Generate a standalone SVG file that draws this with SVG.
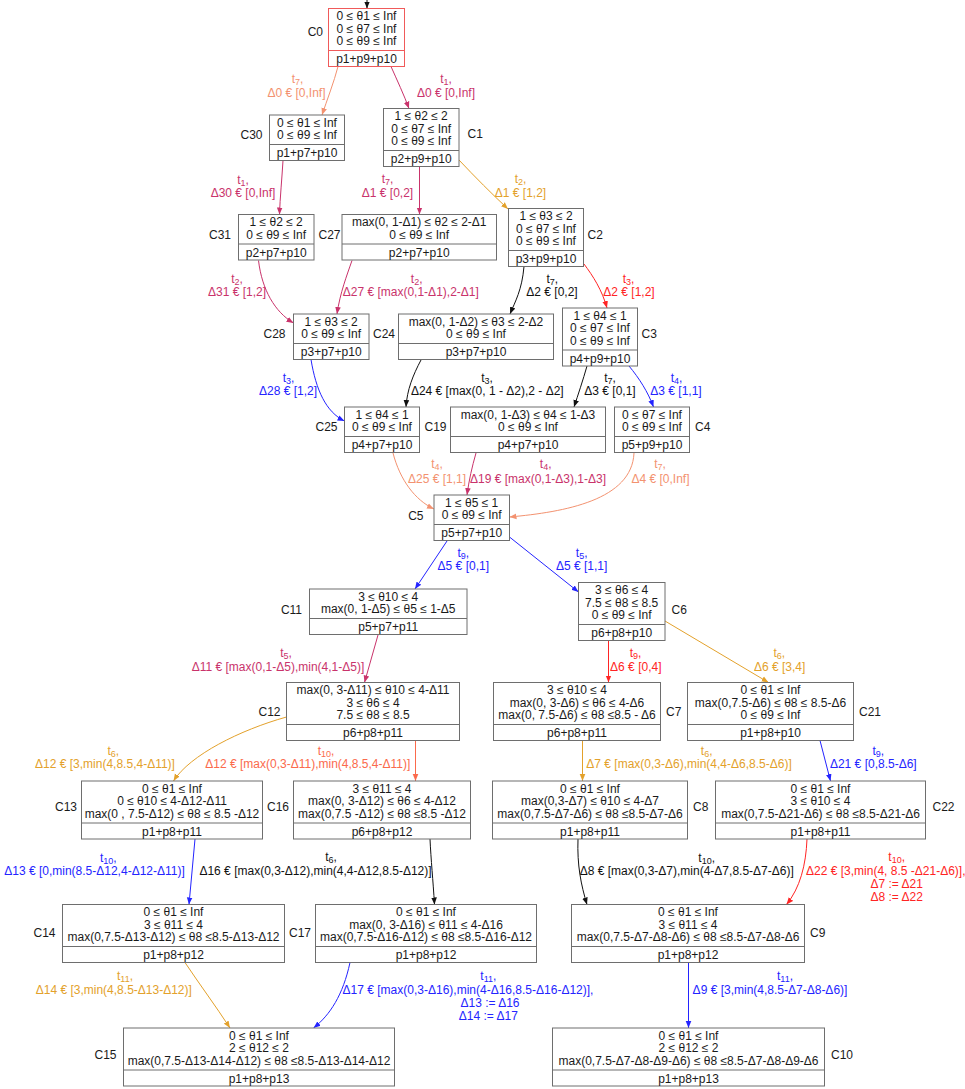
<svg xmlns="http://www.w3.org/2000/svg" width="965" height="1089" viewBox="0 0 965 1089">
<style>
text{font-family:"Liberation Sans",Arial,sans-serif;font-size:12px;fill:#1a1a1a}
.n text{text-anchor:middle}
.n text.nl{text-anchor:end}
.n text.nr{text-anchor:start}
.box{fill:#fff;stroke:#6e6e6e;stroke-width:1}
.div{stroke:#6e6e6e;stroke-width:1}
.lbl text{text-anchor:middle}
.sub{font-size:9px}
.e path{fill:none;stroke-width:1}
.k{stroke:#111}.kt{fill:#111}
.s{stroke:#f39270}.st{fill:#f39270}
.c{stroke:#c9336b}.ct{fill:#c9336b}
.g{stroke:#e3a12b}.gt{fill:#e3a12b}
.r{stroke:#ff2424}.rt{fill:#ff2424}
.b{stroke:#2424ff}.bt{fill:#2424ff}
.o{stroke:#fb6a4c}.ot{fill:#fb6a4c}
</style>
<defs>
<marker id="mk" viewBox="0 0 10 10" refX="10" refY="5" markerWidth="7" markerHeight="7" markerUnits="userSpaceOnUse" orient="auto"><path d="M0,1L10,5L0,9z" fill="#111"/></marker>
<marker id="ms" viewBox="0 0 10 10" refX="10" refY="5" markerWidth="7" markerHeight="7" markerUnits="userSpaceOnUse" orient="auto"><path d="M0,1L10,5L0,9z" fill="#f39270"/></marker>
<marker id="mc" viewBox="0 0 10 10" refX="10" refY="5" markerWidth="7" markerHeight="7" markerUnits="userSpaceOnUse" orient="auto"><path d="M0,1L10,5L0,9z" fill="#c9336b"/></marker>
<marker id="mg" viewBox="0 0 10 10" refX="10" refY="5" markerWidth="7" markerHeight="7" markerUnits="userSpaceOnUse" orient="auto"><path d="M0,1L10,5L0,9z" fill="#e3a12b"/></marker>
<marker id="mr" viewBox="0 0 10 10" refX="10" refY="5" markerWidth="7" markerHeight="7" markerUnits="userSpaceOnUse" orient="auto"><path d="M0,1L10,5L0,9z" fill="#ff2424"/></marker>
<marker id="mb" viewBox="0 0 10 10" refX="10" refY="5" markerWidth="7" markerHeight="7" markerUnits="userSpaceOnUse" orient="auto"><path d="M0,1L10,5L0,9z" fill="#2424ff"/></marker>
<marker id="mo" viewBox="0 0 10 10" refX="10" refY="5" markerWidth="7" markerHeight="7" markerUnits="userSpaceOnUse" orient="auto"><path d="M0,1L10,5L0,9z" fill="#fb6a4c"/></marker>
</defs>
<rect width="965" height="1089" fill="#fff"/>

<g id="connectors" class="e">
<path class="k" marker-end="url(#mk)" d="M367,0L367,8.5"/>
<path class="s" marker-end="url(#ms)" d="M338,66.5C334,82 327,100 322,115"/>
<path class="c" marker-end="url(#mc)" d="M391,66.5C397,80 404,95 409,108.5"/>
<path class="c" marker-end="url(#mc)" d="M283,160.5C282,178 280,198 279.5,214.5"/>
<path class="c" marker-end="url(#mc)" d="M419.5,166L419.5,214.5"/>
<path class="g" marker-end="url(#mg)" d="M459,160C475,177 492,194 508,209"/>
<path class="c" marker-end="url(#mc)" d="M258.5,260.5C262,290 275,312 293.5,323"/>
<path class="c" marker-end="url(#mc)" d="M352,260.5C347,275 340,293 337,314"/>
<path class="k" marker-end="url(#mk)" d="M524,266.5C522,290 515,302 510,314"/>
<path class="r" marker-end="url(#mr)" d="M584,264C593,276 602,290 607,308"/>
<path class="b" marker-end="url(#mb)" d="M311,359.5C316,390 326,412 344.5,421"/>
<path class="k" marker-end="url(#mk)" d="M421,360C413,375 407,390 406,407"/>
<path class="k" marker-end="url(#mk)" d="M587,366C583,380 578,395 574,407"/>
<path class="b" marker-end="url(#mb)" d="M629,366C639,378 648,392 653.5,407"/>
<path class="s" marker-end="url(#ms)" d="M393,453C400,480 415,500 434,509"/>
<path class="c" marker-end="url(#mc)" d="M476,453C472,467 469,480 467,495"/>
<path class="s" marker-end="url(#ms)" d="M634,453C632,500 565,512 509.5,517"/>
<path class="b" marker-end="url(#mb)" d="M447,541L415,589"/>
<path class="b" marker-end="url(#mb)" d="M509.5,537L578.5,592"/>
<path class="c" marker-end="url(#mc)" d="M378,635L364.5,682.5"/>
<path class="r" marker-end="url(#mr)" d="M608.5,640.5L608.5,682.5"/>
<path class="g" marker-end="url(#mg)" d="M665,621L768.5,682.5"/>
<path class="g" marker-end="url(#mg)" d="M286.5,717C240,730 190,755 173.5,781"/>
<path class="o" marker-end="url(#mo)" d="M415.5,740.5L415.5,781"/>
<path class="g" marker-end="url(#mg)" d="M582.5,740.5L582.5,781"/>
<path class="b" marker-end="url(#mb)" d="M820,740.5L830.5,781"/>
<path class="b" marker-end="url(#mb)" d="M195,839L189,904.5"/>
<path class="k" marker-end="url(#mk)" d="M430,839C431,860 433,880 434.5,904.5"/>
<path class="k" marker-end="url(#mk)" d="M578,839C577,865 581,885 587,904.5"/>
<path class="r" marker-end="url(#mr)" d="M807,839C806,865 800,888 786.5,904.5"/>
<path class="g" marker-end="url(#mg)" d="M185,962.5C200,985 215,1005 230,1028"/>
<path class="b" marker-end="url(#mb)" d="M350,962.5C343,995 330,1015 313.5,1028"/>
<path class="b" marker-end="url(#mb)" d="M688.5,962.5L688.5,1028"/>
</g>

<g id="edge-labels" class="lbl">
<text class="st" x="297.5" y="83">t<tspan class="sub" dy="2">7</tspan><tspan dy="-2">,</tspan></text>
<text class="st" x="296.5" y="96.5">Δ0 € [0,Inf]</text>
<text class="ct" x="446" y="83">t<tspan class="sub" dy="2">1</tspan><tspan dy="-2">,</tspan></text>
<text class="ct" x="446" y="96.5">Δ0 € [0,Inf]</text>
<text class="ct" x="243" y="183.5">t<tspan class="sub" dy="2">1</tspan><tspan dy="-2">,</tspan></text>
<text class="ct" x="243" y="196.5">Δ30 € [0,Inf]</text>
<text class="ct" x="387.5" y="183">t<tspan class="sub" dy="2">7</tspan><tspan dy="-2">,</tspan></text>
<text class="ct" x="387.5" y="196.5">Δ1 € [0,2]</text>
<text class="gt" x="520.5" y="183">t<tspan class="sub" dy="2">2</tspan><tspan dy="-2">,</tspan></text>
<text class="gt" x="520.5" y="196.5">Δ1 € [1,2]</text>
<text class="ct" x="237" y="282.5">t<tspan class="sub" dy="2">2</tspan><tspan dy="-2">,</tspan></text>
<text class="ct" x="237" y="296">Δ31 € [1,2]</text>
<text class="ct" x="416.7" y="282.5">t<tspan class="sub" dy="2">2</tspan><tspan dy="-2">,</tspan></text>
<text class="ct" x="410.8" y="296">Δ27 € [max(0,1-Δ1),2-Δ1]</text>
<text class="kt" x="552.3" y="282.5">t<tspan class="sub" dy="2">7</tspan><tspan dy="-2">,</tspan></text>
<text class="kt" x="552" y="296">Δ2 € [0,2]</text>
<text class="rt" x="628.5" y="282.5">t<tspan class="sub" dy="2">3</tspan><tspan dy="-2">,</tspan></text>
<text class="rt" x="629" y="296">Δ2 € [1,2]</text>
<text class="bt" x="288.5" y="381.5">t<tspan class="sub" dy="2">3</tspan><tspan dy="-2">,</tspan></text>
<text class="bt" x="288" y="395.3">Δ28 € [1,2]</text>
<text class="kt" x="487" y="381.5">t<tspan class="sub" dy="2">3</tspan><tspan dy="-2">,</tspan></text>
<text class="kt" x="487.3" y="395.3">Δ24 € [max(0, 1 - Δ2),2 - Δ2]</text>
<text class="kt" x="610" y="381.5">t<tspan class="sub" dy="2">7</tspan><tspan dy="-2">,</tspan></text>
<text class="kt" x="610" y="395.3">Δ3 € [0,1]</text>
<text class="bt" x="676.5" y="381.5">t<tspan class="sub" dy="2">4</tspan><tspan dy="-2">,</tspan></text>
<text class="bt" x="676" y="395.3">Δ3 € [1,1]</text>
<text class="st" x="437" y="468">t<tspan class="sub" dy="2">4</tspan><tspan dy="-2">,</tspan></text>
<text class="st" x="437" y="483.3">Δ25 € [1,1]</text>
<text class="ct" x="545.7" y="468">t<tspan class="sub" dy="2">4</tspan><tspan dy="-2">,</tspan></text>
<text class="ct" x="538" y="483.3">Δ19 € [max(0,1-Δ3),1-Δ3]</text>
<text class="st" x="660" y="468">t<tspan class="sub" dy="2">7</tspan><tspan dy="-2">,</tspan></text>
<text class="st" x="660.5" y="483.3">Δ4 € [0,Inf]</text>
<text class="bt" x="463.3" y="556.5">t<tspan class="sub" dy="2">9</tspan><tspan dy="-2">,</tspan></text>
<text class="bt" x="463.3" y="570.3">Δ5 € [0,1]</text>
<text class="bt" x="581.7" y="556.5">t<tspan class="sub" dy="2">5</tspan><tspan dy="-2">,</tspan></text>
<text class="bt" x="581.7" y="570.3">Δ5 € [1,1]</text>
<text class="ct" x="286" y="657">t<tspan class="sub" dy="2">5</tspan><tspan dy="-2">,</tspan></text>
<text class="ct" x="278" y="671">Δ11 € [max(0,1-Δ5),min(4,1-Δ5)]</text>
<text class="rt" x="635.5" y="657">t<tspan class="sub" dy="2">9</tspan><tspan dy="-2">,</tspan></text>
<text class="rt" x="635.8" y="671">Δ6 € [0,4]</text>
<text class="gt" x="779.3" y="657">t<tspan class="sub" dy="2">6</tspan><tspan dy="-2">,</tspan></text>
<text class="gt" x="779.7" y="671">Δ6 € [3,4]</text>
<text class="gt" x="113.3" y="754.5">t<tspan class="sub" dy="2">6</tspan><tspan dy="-2">,</tspan></text>
<text class="gt" x="105" y="768.3">Δ12 € [3,min(4,8.5,4-Δ11)]</text>
<text class="ot" x="326" y="754.5">t<tspan class="sub" dy="2">10</tspan><tspan dy="-2">,</tspan></text>
<text class="ot" x="307.8" y="768.3">Δ12 € [max(0,3-Δ11),min(4,8.5,4-Δ11)]</text>
<text class="gt" x="706.7" y="754.5">t<tspan class="sub" dy="2">6</tspan><tspan dy="-2">,</tspan></text>
<text class="gt" x="689" y="768.3">Δ7 € [max(0,3-Δ6),min(4,4-Δ6,8.5-Δ6)]</text>
<text class="bt" x="878.3" y="754.5">t<tspan class="sub" dy="2">9</tspan><tspan dy="-2">,</tspan></text>
<text class="bt" x="873.3" y="768.3">Δ21 € [0,8.5-Δ6]</text>
<text class="bt" x="108.3" y="861.5">t<tspan class="sub" dy="2">10</tspan><tspan dy="-2">,</tspan></text>
<text class="bt" x="94.5" y="875.3">Δ13 € [0,min(8.5-Δ12,4-Δ12-Δ11)]</text>
<text class="kt" x="331" y="861">t<tspan class="sub" dy="2">6</tspan><tspan dy="-2">,</tspan></text>
<text class="kt" x="315.5" y="875">Δ16 € [max(0,3-Δ12),min(4,4-Δ12,8.5-Δ12)]</text>
<text class="kt" x="706.7" y="861.5">t<tspan class="sub" dy="2">10</tspan><tspan dy="-2">,</tspan></text>
<text class="kt" x="686.7" y="875.3">Δ8 € [max(0,3-Δ7),min(4-Δ7,8.5-Δ7-Δ6)]</text>
<text class="rt" x="896.7" y="861">t<tspan class="sub" dy="2">10</tspan><tspan dy="-2">,</tspan></text>
<text class="rt" x="885.8" y="874.5">Δ22 € [3,min(4, 8.5 -Δ21-Δ6)],</text>
<text class="rt" x="896.7" y="887.9">Δ7 := Δ21</text>
<text class="rt" x="896.7" y="901.3">Δ8 := Δ22</text>
<text class="gt" x="125" y="979.5">t<tspan class="sub" dy="2">11</tspan><tspan dy="-2">,</tspan></text>
<text class="gt" x="113.8" y="994.3">Δ14 € [3,min(4,8.5-Δ13-Δ12)]</text>
<text class="bt" x="488.3" y="979.5">t<tspan class="sub" dy="2">11</tspan><tspan dy="-2">,</tspan></text>
<text class="bt" x="468" y="993.5">Δ17 € [max(0,3-Δ16),min(4-Δ16,8.5-Δ16-Δ12)],</text>
<text class="bt" x="490" y="1006.9">Δ13 := Δ16</text>
<text class="bt" x="488.3" y="1020.3">Δ14 := Δ17</text>
<text class="bt" x="785" y="979.5">t<tspan class="sub" dy="2">11</tspan><tspan dy="-2">,</tspan></text>
<text class="bt" x="770" y="994.3">Δ9 € [3,min(4,8.5-Δ7-Δ8-Δ6)]</text>
</g>

<g id="C0" class="n"><rect class="box" x="328.5" y="8.5" width="76" height="58" style="stroke:#f05a5a"/><line class="div" x1="328.5" y1="50.5" x2="404.5" y2="50.5" style="stroke:#f05a5a"/>
<text x="366.5" y="20">0 ≤ θ1 ≤ Inf</text><text x="366.5" y="32.5">0 ≤ θ7 ≤ Inf</text><text x="366.5" y="45">0 ≤ θ9 ≤ Inf</text><text x="366.5" y="63.3">p1+p9+p10</text>
<text class="nl" x="323" y="36">C0</text></g>

<g id="C30" class="n"><rect class="box" x="269.5" y="115" width="75" height="45.5"/><line class="div" x1="269.5" y1="144.5" x2="344.5" y2="144.5"/>
<text x="307" y="126.8">0 ≤ θ1 ≤ Inf</text><text x="307" y="139.3">0 ≤ θ9 ≤ Inf</text><text x="307" y="157">p1+p7+p10</text>
<text class="nl" x="262.5" y="139.3">C30</text></g>

<g id="C1" class="n"><rect class="box" x="383.5" y="108.5" width="75.5" height="58"/><line class="div" x1="383.5" y1="150.5" x2="459" y2="150.5"/>
<text x="421.2" y="120">1 ≤ θ2 ≤ 2</text><text x="421.2" y="132.5">0 ≤ θ7 ≤ Inf</text><text x="421.2" y="145">0 ≤ θ9 ≤ Inf</text><text x="421.2" y="163.3">p2+p9+p10</text>
<text class="nr" x="467.5" y="137.6">C1</text></g>

<g id="C31" class="n"><rect class="box" x="238.5" y="214.5" width="75.5" height="45.5"/><line class="div" x1="238.5" y1="244" x2="314" y2="244"/>
<text x="276.2" y="226.3">1 ≤ θ2 ≤ 2</text><text x="276.2" y="238.8">0 ≤ θ9 ≤ Inf</text><text x="276.2" y="256.5">p2+p7+p10</text>
<text class="nl" x="231" y="238.6">C31</text></g>

<g id="C27" class="n"><rect class="box" x="342" y="214.5" width="154.5" height="45.5"/><line class="div" x1="342" y1="244" x2="496.5" y2="244"/>
<text x="419.2" y="226.3">max(0, 1-Δ1) ≤ θ2 ≤ 2-Δ1</text><text x="419.2" y="238.8">0 ≤ θ9 ≤ Inf</text><text x="419.2" y="256.5">p2+p7+p10</text>
<text class="nl" x="340.5" y="238.6">C27</text></g>

<g id="C2" class="n"><rect class="box" x="508.5" y="208.5" width="75" height="58"/><line class="div" x1="508.5" y1="250.5" x2="583.5" y2="250.5"/>
<text x="546" y="220">1 ≤ θ3 ≤ 2</text><text x="546" y="232.5">0 ≤ θ7 ≤ Inf</text><text x="546" y="245">0 ≤ θ9 ≤ Inf</text><text x="546" y="263.3">p3+p9+p10</text>
<text class="nr" x="587.5" y="238.6">C2</text></g>

<g id="C28" class="n"><rect class="box" x="293.5" y="314" width="75.5" height="45.5"/><line class="div" x1="293.5" y1="343.5" x2="369" y2="343.5"/>
<text x="331.2" y="325.8">1 ≤ θ3 ≤ 2</text><text x="331.2" y="338.3">0 ≤ θ9 ≤ Inf</text><text x="331.2" y="356">p3+p7+p10</text>
<text class="nl" x="285.5" y="338.3">C28</text></g>

<g id="C24" class="n"><rect class="box" x="398.5" y="314" width="155" height="45.5"/><line class="div" x1="398.5" y1="343.5" x2="553.5" y2="343.5"/>
<text x="476" y="325.8">max(0, 1-Δ2) ≤ θ3 ≤ 2-Δ2</text><text x="476" y="338.3">0 ≤ θ9 ≤ Inf</text><text x="476" y="356">p3+p7+p10</text>
<text class="nl" x="395" y="338.3">C24</text></g>

<g id="C3" class="n"><rect class="box" x="562.5" y="308" width="75" height="58"/><line class="div" x1="562.5" y1="350" x2="637.5" y2="350"/>
<text x="600" y="319.5">1 ≤ θ4 ≤ 1</text><text x="600" y="332">0 ≤ θ7 ≤ Inf</text><text x="600" y="344.5">0 ≤ θ9 ≤ Inf</text><text x="600" y="362.8">p4+p9+p10</text>
<text class="nr" x="641.5" y="337.6">C3</text></g>

<g id="C25" class="n"><rect class="box" x="344.5" y="407" width="75" height="45.5"/><line class="div" x1="344.5" y1="436.5" x2="419.5" y2="436.5"/>
<text x="382" y="418.8">1 ≤ θ4 ≤ 1</text><text x="382" y="431.3">0 ≤ θ9 ≤ Inf</text><text x="382" y="449">p4+p7+p10</text>
<text class="nl" x="337.5" y="431">C25</text></g>

<g id="C19" class="n"><rect class="box" x="450.5" y="407" width="155" height="45.5"/><line class="div" x1="450.5" y1="436.5" x2="605.5" y2="436.5"/>
<text x="528" y="418.8">max(0, 1-Δ3) ≤ θ4 ≤ 1-Δ3</text><text x="528" y="431.3">0 ≤ θ9 ≤ Inf</text><text x="528" y="449">p4+p7+p10</text>
<text class="nl" x="446.5" y="431">C19</text></g>

<g id="C4" class="n"><rect class="box" x="614.5" y="407" width="75" height="45.5"/><line class="div" x1="614.5" y1="436.5" x2="689.5" y2="436.5"/>
<text x="652" y="418.8">0 ≤ θ7 ≤ Inf</text><text x="652" y="431.3">0 ≤ θ9 ≤ Inf</text><text x="652" y="449">p5+p9+p10</text>
<text class="nr" x="695" y="431">C4</text></g>

<g id="C5" class="n"><rect class="box" x="434" y="495" width="75.5" height="45.5"/><line class="div" x1="434" y1="524.5" x2="509.5" y2="524.5"/>
<text x="471.7" y="506.8">1 ≤ θ5 ≤ 1</text><text x="471.7" y="519.3">0 ≤ θ9 ≤ Inf</text><text x="471.7" y="537">p5+p7+p10</text>
<text class="nl" x="423.5" y="520.3">C5</text></g>

<g id="C11" class="n"><rect class="box" x="309.5" y="589" width="157.5" height="45.5"/><line class="div" x1="309.5" y1="618.5" x2="467" y2="618.5"/>
<text x="388.2" y="600.8">3 ≤ θ10 ≤ 4</text><text x="388.2" y="613.3">max(0, 1-Δ5) ≤ θ5 ≤ 1-Δ5</text><text x="388.2" y="631">p5+p7+p11</text>
<text class="nl" x="302" y="613.6">C11</text></g>

<g id="C6" class="n"><rect class="box" x="578.5" y="582.5" width="86.5" height="58"/><line class="div" x1="578.5" y1="624.5" x2="665" y2="624.5"/>
<text x="621.7" y="594">3 ≤ θ6 ≤ 4</text><text x="621.7" y="606.5">7.5 ≤ θ8 ≤ 8.5</text><text x="621.7" y="619">0 ≤ θ9 ≤ Inf</text><text x="621.7" y="637.3">p6+p8+p10</text>
<text class="nr" x="671.5" y="614.3">C6</text></g>

<g id="C12" class="n"><rect class="box" x="286.5" y="682.5" width="173" height="58"/><line class="div" x1="286.5" y1="724.5" x2="459.5" y2="724.5"/>
<text x="373" y="694">max(0, 3-Δ11) ≤ θ10 ≤ 4-Δ11</text><text x="373" y="706.5">3 ≤ θ6 ≤ 4</text><text x="373" y="719">7.5 ≤ θ8 ≤ 8.5</text><text x="373" y="737.3">p6+p8+p11</text>
<text class="nl" x="280.5" y="716">C12</text></g>

<g id="C7" class="n"><rect class="box" x="493.5" y="682.5" width="167" height="58"/><line class="div" x1="493.5" y1="724.5" x2="660.5" y2="724.5"/>
<text x="577" y="694">3 ≤ θ10 ≤ 4</text><text x="577" y="706.5">max(0, 3-Δ6) ≤ θ6 ≤ 4-Δ6</text><text x="577" y="719">max(0, 7.5-Δ6) ≤ θ8 ≤8.5 - Δ6</text><text x="577" y="737.3">p6+p8+p11</text>
<text class="nr" x="666" y="716">C7</text></g>

<g id="C21" class="n"><rect class="box" x="687.5" y="682.5" width="166" height="58"/><line class="div" x1="687.5" y1="724.5" x2="853.5" y2="724.5"/>
<text x="770.5" y="694">0 ≤ θ1 ≤ Inf</text><text x="770.5" y="706.5">max(0,7.5-Δ6) ≤ θ8 ≤ 8.5-Δ6</text><text x="770.5" y="719">0 ≤ θ9 ≤ Inf</text><text x="770.5" y="737.3">p1+p8+p10</text>
<text class="nr" x="859" y="716">C21</text></g>

<g id="C13" class="n"><rect class="box" x="81.5" y="781" width="181" height="58"/><line class="div" x1="81.5" y1="823" x2="262.5" y2="823"/>
<text x="172" y="792.5">0 ≤ θ1 ≤ Inf</text><text x="172" y="805">0 ≤ θ10 ≤ 4-Δ12-Δ11</text><text x="172" y="817.5">max(0 , 7.5-Δ12) ≤ θ8 ≤ 8.5 -Δ12</text><text x="172" y="835.8">p1+p8+p11</text>
<text class="nl" x="77" y="811">C13</text></g>

<g id="C16" class="n"><rect class="box" x="293.5" y="781" width="177" height="58"/><line class="div" x1="293.5" y1="823" x2="470.5" y2="823"/>
<text x="382" y="792.5">3 ≤ θ11 ≤ 4</text><text x="382" y="805">max(0, 3-Δ12) ≤ θ6 ≤ 4-Δ12</text><text x="382" y="817.5">max(0,7.5 -Δ12) ≤ θ8 ≤8.5 -Δ12</text><text x="382" y="835.8">p6+p8+p12</text>
<text class="nl" x="289" y="811">C16</text></g>

<g id="C8" class="n"><rect class="box" x="492.5" y="781" width="195" height="58"/><line class="div" x1="492.5" y1="823" x2="687.5" y2="823"/>
<text x="590" y="792.5">0 ≤ θ1 ≤ Inf</text><text x="590" y="805">max(0,3-Δ7) ≤ θ10 ≤ 4-Δ7</text><text x="590" y="817.5">max(0,7.5-Δ7-Δ6) ≤ θ8 ≤8.5-Δ7-Δ6</text><text x="590" y="835.8">p1+p8+p11</text>
<text class="nr" x="693" y="811">C8</text></g>

<g id="C22" class="n"><rect class="box" x="715.5" y="781" width="210" height="58"/><line class="div" x1="715.5" y1="823" x2="925.5" y2="823"/>
<text x="820.5" y="792.5">0 ≤ θ1 ≤ Inf</text><text x="820.5" y="805">3 ≤ θ10 ≤ 4</text><text x="820.5" y="817.5">max(0,7.5-Δ21-Δ6) ≤ θ8 ≤8.5-Δ21-Δ6</text><text x="820.5" y="835.8">p1+p8+p11</text>
<text class="nr" x="932.5" y="811">C22</text></g>

<g id="C14" class="n"><rect class="box" x="62.5" y="904.5" width="222" height="58"/><line class="div" x1="62.5" y1="946.5" x2="284.5" y2="946.5"/>
<text x="173.5" y="916">0 ≤ θ1 ≤ Inf</text><text x="173.5" y="928.5">3 ≤ θ11 ≤ 4</text><text x="173.5" y="941">max(0,7.5-Δ13-Δ12) ≤ θ8 ≤8.5-Δ13-Δ12</text><text x="173.5" y="959.3">p1+p8+p12</text>
<text class="nl" x="55.5" y="937">C14</text></g>

<g id="C17" class="n"><rect class="box" x="315.5" y="904.5" width="221" height="58"/><line class="div" x1="315.5" y1="946.5" x2="536.5" y2="946.5"/>
<text x="426" y="916">0 ≤ θ1 ≤ Inf</text><text x="426" y="928.5">max(0, 3-Δ16) ≤ θ11 ≤ 4-Δ16</text><text x="426" y="941">max(0,7.5-Δ16-Δ12) ≤ θ8 ≤8.5-Δ16-Δ12</text><text x="426" y="959.3">p1+p8+p12</text>
<text class="nl" x="311" y="937">C17</text></g>

<g id="C9" class="n"><rect class="box" x="571.5" y="904.5" width="233" height="58"/><line class="div" x1="571.5" y1="946.5" x2="804.5" y2="946.5"/>
<text x="688" y="916">0 ≤ θ1 ≤ Inf</text><text x="688" y="928.5">3 ≤ θ11 ≤ 4</text><text x="688" y="941">max(0,7.5-Δ7-Δ8-Δ6) ≤ θ8 ≤8.5-Δ7-Δ8-Δ6</text><text x="688" y="959.3">p1+p8+p12</text>
<text class="nr" x="810" y="937">C9</text></g>

<g id="C15" class="n"><rect class="box" x="123.5" y="1028" width="271" height="58"/><line class="div" x1="123.5" y1="1070" x2="394.5" y2="1070"/>
<text x="259" y="1039.5">0 ≤ θ1 ≤ Inf</text><text x="259" y="1052">2 ≤ θ12 ≤ 2</text><text x="259" y="1064.5">max(0,7.5-Δ13-Δ14-Δ12) ≤ θ8 ≤8.5-Δ13-Δ14-Δ12</text><text x="259" y="1082.8">p1+p8+p13</text>
<text class="nl" x="116.5" y="1059.3">C15</text></g>

<g id="C10" class="n"><rect class="box" x="552.5" y="1028" width="272" height="58"/><line class="div" x1="552.5" y1="1070" x2="824.5" y2="1070"/>
<text x="688.5" y="1039.5">0 ≤ θ1 ≤ Inf</text><text x="688.5" y="1052">2 ≤ θ12 ≤ 2</text><text x="688.5" y="1064.5">max(0,7.5-Δ7-Δ8-Δ9-Δ6) ≤ θ8 ≤8.5-Δ7-Δ8-Δ9-Δ6</text><text x="688.5" y="1082.8">p1+p8+p13</text>
<text class="nr" x="831" y="1059.3">C10</text></g>
</svg>
